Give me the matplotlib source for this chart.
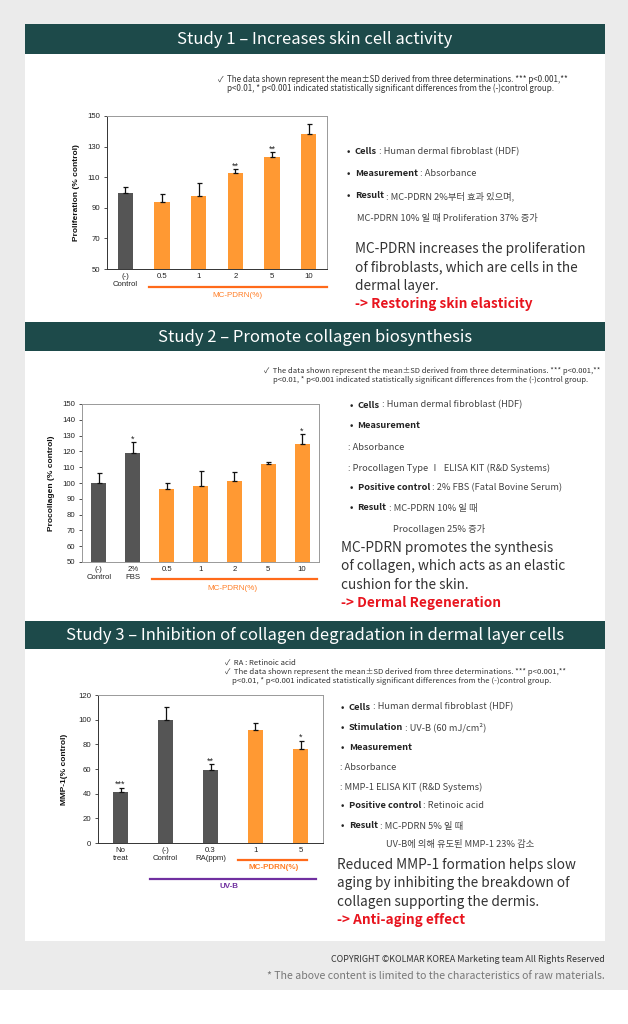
import matplotlib
matplotlib.use('Agg')
import matplotlib.pyplot as plt
from matplotlib.patches import Rectangle

# ---------------- data ----------------
s1_categories = ['(-)\nControl', '0.5', '1', '2', '5', '10']
s1_values = [100, 93.5, 98, 113, 123, 138]
s1_errors = [3.5, 5.5, 8, 2.5, 3.5, 6.5]
s1_stars = ['', '', '', '**', '**', '']
s1_yticks = [50, 70, 90, 110, 130, 150]

s2_categories = ['(-)\nControl', '2%\nFBS', '0.5', '1', '2', '5', '10']
s2_values = [100, 119, 96.5, 98, 101, 112, 125]
s2_errors = [6.5, 7, 3.5, 9.5, 6, 1.5, 6]
s2_stars = ['', '*', '', '', '', '', '*']
s2_yticks = [50, 60, 70, 80, 90, 100, 110, 120, 130, 140, 150]

s3_categories = ['No\ntreat', '(-)\nControl', '0.3\nRA(ppm)', '1', '5']
s3_values = [41, 100, 59.5, 92, 76]
s3_errors = [4, 10.5, 4.5, 5, 7]
s3_stars = ['***', '', '**', '', '*']
s3_yticks = [0, 20, 40, 60, 80, 100, 120]

headers = ['Study 1 \u2013 Increases skin cell activity',
           'Study 2 \u2013 Promote collagen biosynthesis',
           'Study 3 \u2013 Inhibition of collagen degradation in dermal layer cells']

# ---------------- styles ----------------
W, H = 628, 1024
GRAY_BG = '#ebebeb'
TEAL = '#1d4a4a'
DARK = '#555555'
ORANGE = '#ff9933'
LINE_OR = '#ff6a1a'
TXT_OR = '#ff7f27'
PURPLE = '#7030a0'
RED = '#e8141e'
FAM = ['Noto Sans CJK KR', 'DejaVu Sans']
CHART_FAM = ['Liberation Sans', 'DejaVu Sans']

fig = plt.figure(figsize=(W / 100, H / 100), dpi=100)
fig.patch.set_facecolor('white')
ax0 = fig.add_axes([0, 0, 1, 1])
ax0.set_xlim(0, W)
ax0.set_ylim(H, 0)
ax0.axis('off')

ax0.add_patch(Rectangle((0, 0), W, 990, color=GRAY_BG, lw=0))
ax0.add_patch(Rectangle((25, 24), 580, 917, color='white', lw=0))
for (top, bot), title in zip([(24, 54), (322, 351), (621, 649)], headers):
    ax0.add_patch(Rectangle((25, top), 580, bot - top, color=TEAL, lw=0))
    ax0.text(315, (top + bot) / 2 + 0.5, title, color='white', fontsize=12,
             fontweight='light', ha='center', va='center', family=FAM)

renderer = fig.canvas.get_renderer()


def rich(x, y, parts, size=6.7):
    for txt, weight, color in parts:
        t = ax0.text(x, y, txt, fontsize=size, fontweight=weight, color=color,
                     ha='left', va='center', family=FAM)
        x += t.get_window_extent(renderer).width


def note(x, y, txt, size=5.8):
    ax0.text(x, y, txt, fontsize=size, color='#333333', ha='left', va='center', family=FAM)


# notes
note(218, 80, '\u2713  The data shown represent the mean\u00b1SD derived from three determinations. *** p<0.001,**')
note(227, 88, 'p<0.01, * p<0.001 indicated statistically significant differences from the (-)control group.')
note(264, 371, '\u2713  The data shown represent the mean\u00b1SD derived from three determinations. *** p<0.001,**', 5.5)
note(273, 380, 'p<0.01, * p<0.001 indicated statistically significant differences from the (-)control group.', 5.5)
note(225, 663, '\u2713  RA : Retinoic acid', 5.6)
note(225, 672, '\u2713  The data shown represent the mean\u00b1SD derived from three determinations. *** p<0.001,**', 5.6)
note(232, 681, 'p<0.01, * p<0.001 indicated statistically significant differences from the (-)control group.', 5.6)

B = 'bold'
N = 'normal'
C = '#222222'
C2 = '#444444'
BIG = 9.8
# block 1
rich(347, 152, [('\u2022  ', B, C), ('Cells', B, C), (' : Human dermal fibroblast (HDF)', N, C2)])
rich(347, 173, [('\u2022  ', B, C), ('Measurement', B, C), (' : Absorbance', N, C2)])
rich(347, 196, [('\u2022  ', B, C), ('Result', B, C), (' : MC-PDRN 2%부터 효과 있으며,', N, C2)])
rich(357, 218, [('MC-PDRN 10% 일 때 Proliferation 37% 증가', N, C2)])
for i, (txt, col, wt) in enumerate([('MC-PDRN increases the proliferation', '#333333', N),
                                    ('of fibroblasts, which are cells in the', '#333333', N),
                                    ('dermal layer.', '#333333', N),
                                    ('-> Restoring skin elasticity', RED, B)]):
    ax0.text(355, 249 + i * 18.3, txt, fontsize=BIG, color=col, fontweight=wt,
             ha='left', va='center', family=FAM)

# block 2
rich(350, 405, [('\u2022  ', B, C), ('Cells', B, C), (' : Human dermal fibroblast (HDF)', N, C2)])
rich(350, 426, [('\u2022  ', B, C), ('Measurement', B, C)])
rich(348, 447, [(': Absorbance', N, C2)])
rich(348, 468, [(': Procollagen Type \u2160  ELISA KIT (R&D Systems)', N, C2)])
rich(350, 488, [('\u2022  ', B, C), ('Positive control', B, C), (' : 2% FBS (Fatal Bovine Serum)', N, C2)])
rich(350, 508, [('\u2022  ', B, C), ('Result', B, C), (' : MC-PDRN 10% 일 때', N, C2)])
rich(393, 529, [('Procollagen 25% 증가', N, C2)])
for i, (txt, col, wt) in enumerate([('MC-PDRN promotes the synthesis', '#333333', N),
                                    ('of collagen, which acts as an elastic', '#333333', N),
                                    ('cushion for the skin.', '#333333', N),
                                    ('-> Dermal Regeneration', RED, B)]):
    ax0.text(341, 548 + i * 18.3, txt, fontsize=BIG, color=col, fontweight=wt,
             ha='left', va='center', family=FAM)

# block 3
rich(341, 707, [('\u2022  ', B, C), ('Cells', B, C), (' : Human dermal fibroblast (HDF)', N, C2)])
rich(341, 727, [('\u2022  ', B, C), ('Stimulation', B, C), (' : UV-B (60 mJ/cm\u00b2)', N, C2)])
rich(341, 747, [('\u2022  ', B, C), ('Measurement', B, C)])
rich(340, 767, [(': Absorbance', N, C2)])
rich(340, 787, [(': MMP-1 ELISA KIT (R&D Systems)', N, C2)])
rich(341, 806, [('\u2022  ', B, C), ('Positive control', B, C), (' : Retinoic acid', N, C2)])
rich(341, 826, [('\u2022  ', B, C), ('Result', B, C), (' : MC-PDRN 5% 일 때', N, C2)])
rich(386, 845, [('UV-B에 의해 유도된 MMP-1 23% 감소', N, C2)])
for i, (txt, col, wt) in enumerate([('Reduced MMP-1 formation helps slow', '#333333', N),
                                    ('aging by inhibiting the breakdown of', '#333333', N),
                                    ('collagen supporting the dermis.', '#333333', N),
                                    ('-> Anti-aging effect', RED, B)]):
    ax0.text(337, 865 + i * 18.3, txt, fontsize=BIG, color=col, fontweight=wt,
             ha='left', va='center', family=FAM)

# footer
ax0.text(605, 959, 'COPYRIGHT \u00a9KOLMAR KOREA Marketing team All Rights Reserved',
         fontsize=6.4, color='#333333', ha='right', va='center', family=FAM)
ax0.text(605, 976, '* The above content is limited to the characteristics of raw materials.',
         fontsize=7.6, color='#777777', ha='right', va='center', family=FAM)


# ---------------- charts ----------------
def chart(px, categories, values, errors, stars, yticks, n_dark, width, ylabel,
          ylabel_pad, spine_col):
    x0, y0, x1, y1 = px
    ax = fig.add_axes([x0 / W, 1 - y1 / H, (x1 - x0) / W, (y1 - y0) / H])
    ax.set_facecolor('white')
    xs = list(range(len(categories)))
    cols = [DARK if i < n_dark else ORANGE for i in xs]
    ax.bar(xs, values, width=width, color=cols, edgecolor='none', zorder=2)
    ax.errorbar(xs, values, yerr=[[0] * len(errors), errors], fmt='none',
                ecolor='#111111', elinewidth=0.9, capsize=1.8, capthick=0.9, zorder=3)
    span = yticks[-1] - yticks[0]
    for x, v, e, s in zip(xs, values, errors, stars):
        if s:
            ax.text(x, v + e - 0.01 * span, s, ha='center', va='bottom',
                    fontsize=6.5, color='#222222', family=CHART_FAM)
    ax.set_xlim(-0.5, len(categories) - 0.5)
    ax.set_ylim(yticks[0], yticks[-1])
    ax.set_yticks(yticks)
    ax.set_xticks(xs)
    ax.set_xticklabels(categories, fontsize=5.6, color='#222222', family=CHART_FAM,
                       linespacing=1.15)
    ax.tick_params(axis='x', length=0, pad=3)
    ax.tick_params(axis='y', length=2.5, width=0.6, pad=2.5, labelsize=5.6,
                   labelcolor='#222222', color='#333333')
    for lab in ax.get_yticklabels():
        lab.set_family(CHART_FAM)
    ax.set_ylabel(ylabel, fontsize=6, fontweight='bold', family=CHART_FAM,
                  labelpad=ylabel_pad, color='#111111')
    for k, sp in ax.spines.items():
        sp.set_linewidth(0.7)
        sp.set_color(spine_col if k in ('left', 'bottom') else '#999999')
    return ax


ax1 = chart((107, 116, 327, 269), s1_categories, s1_values, s1_errors, s1_stars,
            s1_yticks, 1, 0.42, 'Proliferation (% control)', 5, '#333333')
tr = ax1.get_xaxis_transform()
ax1.plot([0.65, 5.5], [-0.118, -0.118], transform=tr, color=LINE_OR, lw=1.6, clip_on=False)
ax1.text(3.05, -0.175, 'MC-PDRN(%)', transform=tr, color=TXT_OR, fontsize=5.8,
         ha='center', va='center', family=CHART_FAM)

ax2 = chart((82, 404, 319, 562), s2_categories, s2_values, s2_errors, s2_stars,
            s2_yticks, 2, 0.44, 'Procollagen (% control)', 5, '#999999')
tr = ax2.get_xaxis_transform()
ax2.plot([1.58, 6.45], [-0.108, -0.108], transform=tr, color=LINE_OR, lw=1.6, clip_on=False)
ax2.text(3.95, -0.165, 'MC-PDRN(%)', transform=tr, color=TXT_OR, fontsize=5.8,
         ha='center', va='center', family=CHART_FAM)

ax3 = chart((98, 695, 323, 843), s3_categories, s3_values, s3_errors, s3_stars,
            s3_yticks, 3, 0.34, 'MMP-1(% control)', 7, '#333333')
tr = ax3.get_xaxis_transform()
ax3.plot([2.6, 4.15], [-0.115, -0.115], transform=tr, color=LINE_OR, lw=1.6, clip_on=False)
ax3.text(3.4, -0.168, 'MC-PDRN(%)', transform=tr, color=TXT_OR, fontsize=5.8,
         fontweight='bold', ha='center', va='center', family=CHART_FAM)
ax3.plot([0.65, 4.35], [-0.243, -0.243], transform=tr, color=PURPLE, lw=1.6, clip_on=False)
ax3.text(2.4, -0.297, 'UV-B', transform=tr, color=PURPLE, fontsize=5.8,
         fontweight='bold', ha='center', va='center', family=CHART_FAM)

fig.savefig('out.png', dpi=100, facecolor=fig.get_facecolor())
